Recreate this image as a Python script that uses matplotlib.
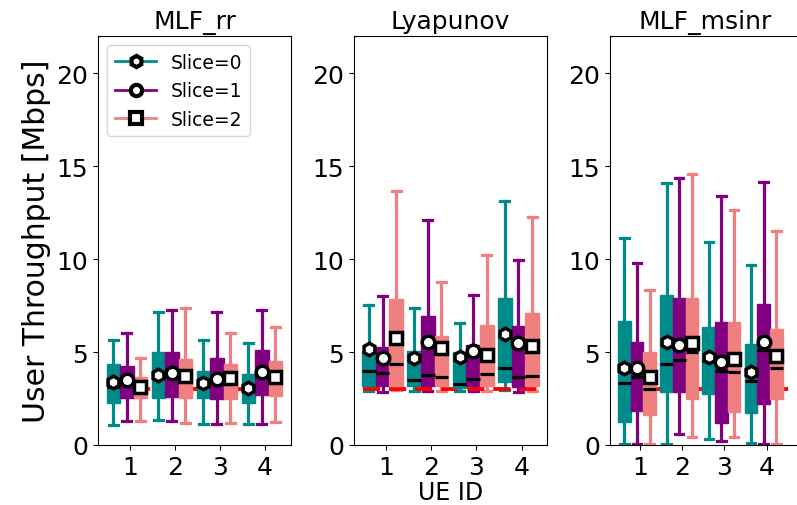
import matplotlib
matplotlib.use('Agg')
import matplotlib.pyplot as plt
from matplotlib.lines import Line2D

schedulers = ['MLF_rr', 'Lyapunov', 'MLF_msinr']
ue_ids = [1, 2, 3, 4]
slice_labels = ['Slice=0', 'Slice=1', 'Slice=2']
slice_colors = ['#008b8b', '#800080', '#f08080']
slice_markers = ['h', 'o', 's']
min_rate = 3.0

# rows = slice 0..2, columns = UE 1..4
rr_lo = [[1.09, 1.33, 1.11, 1.15], [1.29, 1.29, 1.15, 1.11], [1.29, 1.18, 1.18, 1.22]]
rr_q1 = [[2.26, 2.54, 2.53, 2.26], [2.51, 2.56, 2.47, 2.69], [2.51, 2.51, 2.47, 2.62]]
rr_med = [[3.10, 3.60, 3.20, 3.00], [3.30, 3.70, 3.40, 3.70], [3.00, 3.50, 3.40, 3.50]]
rr_q3 = [[4.35, 4.98, 3.98, 3.80], [4.26, 5.02, 4.69, 5.09], [3.64, 4.62, 4.34, 4.52]]
rr_hi = [[5.66, 7.13, 5.66, 5.48], [6.02, 7.27, 7.17, 7.24], [4.66, 7.37, 6.02, 6.34]]
rr_mean = [[3.37, 3.76, 3.33, 3.08], [3.49, 3.87, 3.55, 3.91], [3.14, 3.69, 3.58, 3.64]]

ly_lo = [[2.92, 2.92, 2.88, 2.95], [2.85, 2.90, 2.92, 2.85], [2.95, 2.92, 2.92, 2.92]]
ly_q1 = [[3.15, 3.15, 3.05, 3.37], [3.15, 3.15, 3.15, 3.12], [3.19, 3.15, 3.15, 3.15]]
ly_med = [[3.96, 3.51, 3.28, 4.12], [3.87, 3.76, 3.55, 3.67], [4.35, 3.64, 3.82, 3.69]]
ly_q3 = [[5.07, 5.07, 4.98, 7.89], [5.25, 6.92, 5.38, 6.42], [7.85, 5.84, 6.45, 7.08]]
ly_hi = [[7.53, 7.37, 6.56, 13.13], [8.00, 12.11, 8.06, 9.96], [13.67, 8.75, 10.23, 12.24]]
ly_mean = [[5.16, 4.68, 4.71, 5.97], [4.66, 5.56, 5.04, 5.48], [5.77, 5.20, 4.84, 5.34]]

ms_lo = [[0.08, 0.08, 0.32, 0.11], [0.08, 0.59, 0.20, 0.08], [0.08, 0.41, 0.41, 0.08]]
ms_q1 = [[1.25, 2.83, 2.74, 1.72], [1.85, 2.83, 1.18, 2.20], [1.61, 2.47, 1.76, 2.47]]
ms_med = [[3.33, 4.35, 4.50, 3.42], [3.64, 4.57, 4.00, 5.11], [3.01, 4.98, 3.94, 4.14]]
ms_q3 = [[6.65, 8.06, 6.33, 5.41], [5.56, 7.89, 6.63, 7.58], [4.98, 7.89, 6.63, 6.24]]
ms_hi = [[11.13, 14.10, 10.93, 9.69], [9.80, 14.34, 13.37, 14.16], [8.32, 14.57, 12.65, 11.52]]
ms_mean = [[4.14, 5.52, 4.71, 3.94], [4.14, 5.39, 4.44, 5.52], [3.64, 5.48, 4.62, 4.80]]

panels = [
    (rr_lo, rr_q1, rr_med, rr_q3, rr_hi, rr_mean),
    (ly_lo, ly_q1, ly_med, ly_q3, ly_hi, ly_mean),
    (ms_lo, ms_q1, ms_med, ms_q3, ms_hi, ms_mean),
]

offsets = [-0.37, -0.07, 0.23]
box_w = 0.3

W, H = 797, 506
fig = plt.figure(figsize=(W / 100, H / 100), dpi=100)
# axes boxes in pixels: left, width, xlim
ax_specs = [(98, 193, (0.29, 4.58)), (354, 193, (0.30, 4.56)), (610, 190, (0.29, 4.79))]

axes = []
for (left, width, xl), name, data in zip(ax_specs, schedulers, panels):
    ax = fig.add_axes([left / W, 60 / H, width / W, 409 / H])
    lo, q1, med, q3, hi, mean = data
    # min rate line: above whiskers, below boxes
    ax.hlines(min_rate, 0.5, 4.5, colors='red', linewidth=2.8, linestyles=(0, (4.4, 2.3)), zorder=1.5)
    for s in range(3):
        stats = []
        for u in range(4):
            stats.append({'whislo': lo[s][u], 'q1': q1[s][u], 'med': med[s][u],
                          'q3': q3[s][u], 'whishi': hi[s][u], 'mean': mean[s][u], 'fliers': []})
        c = slice_colors[s]
        ax.bxp(stats, positions=[x + offsets[s] for x in ue_ids], widths=box_w,
               capwidths=0.2, patch_artist=True, showmeans=True, showfliers=False,
               boxprops=dict(facecolor=c, edgecolor=c, linewidth=1),
               whiskerprops=dict(color=c, linewidth=2.3, zorder=1),
               capprops=dict(color=c, linewidth=2.3, zorder=1),
               medianprops=dict(color='black', linewidth=2.3),
               meanprops=dict(marker=slice_markers[s], markerfacecolor='white',
                              markeredgecolor='black', markersize=9, markeredgewidth=2.5),
               manage_ticks=False, zorder=2)
    ax.set_xlim(*xl)
    ax.set_ylim(0, 22)
    ax.set_xticks(ue_ids)
    ax.set_xticklabels([str(u) for u in ue_ids])
    ax.set_yticks([0, 5, 10, 15, 20])
    ax.tick_params(labelsize=18)
    ax.set_title(name, fontsize=18)
    axes.append(ax)

axes[0].set_ylabel('User Throughput [Mbps]', fontsize=21.5, labelpad=4)
axes[1].set_xlabel('UE ID', fontsize=17, labelpad=1)

handles = [Line2D([], [], color=slice_colors[s], linewidth=2, marker=slice_markers[s],
                  markerfacecolor='white', markeredgecolor='black', markersize=9,
                  markeredgewidth=3) for s in range(3)]
axes[0].legend(handles, slice_labels, loc='upper left', fontsize=13.5, handlelength=2.2,
               markerscale=0.9)

fig.savefig('out.png', dpi=100)
